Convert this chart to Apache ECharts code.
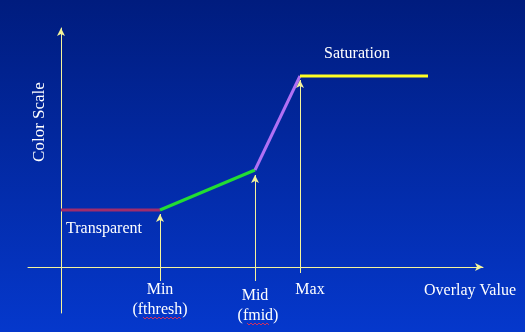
<!DOCTYPE html>
<html>
<head>
<meta charset="utf-8">
<script src="https://cdn.jsdelivr.net/npm/echarts@6/dist/echarts.min.js"></script>
<style>
  html, body { margin: 0; padding: 0; }
  #chart { width: 525px; height: 332px; }
</style>
</head>
<body>
<div id="chart"></div>
<script>
// Piecewise colour-scale transfer curve (overlay value -> colour scale)
const breakX = [0, 0.99, 1.94, 2.39, 3.67];     // start, fthresh, fmid, fmax, end
const scaleY = [0.57, 0.57, 0.97, 1.91, 1.91];  // colour scale at each break
const segmentNames = ['Transparent', 'Ramp', 'Steep ramp', 'Saturation'];
const segmentColors = ['#a02c6c', '#22dd33', '#b070f4', '#ffff22'];

// Threshold markers drawn as arrows up to the curve
const markerX = [0.99, 1.94, 2.39];
const markerFrom = [-0.14, -0.14, -0.06];
const markerTo = [0.53, 0.92, 1.87];

const FONT = '"Liberation Serif", "DejaVu Serif", serif';
const AXIS_COLOR = '#f4f49a';

const chart = echarts.init(document.getElementById('chart'), null, { renderer: 'canvas' });

const segments = segmentNames.map((name, i) => ({
  name: name,
  type: 'line',
  data: [[breakX[i], scaleY[i]], [breakX[i + 1], scaleY[i + 1]]],
  showSymbol: false,
  silent: true,
  lineStyle: { color: segmentColors[i], width: 3 },
  z: 3
}));

const markers = {
  type: 'line',
  data: [],
  silent: true,
  markLine: {
    silent: true,
    symbol: ['none', 'arrow'],
    symbolSize: [6, 8],
    label: { show: false },
    lineStyle: { color: AXIS_COLOR, width: 1, type: 'solid' },
    data: markerX.map((x, i) => [
      { coord: [x, markerFrom[i]] },
      { coord: [x, markerTo[i]] }
    ])
  },
  z: 2
};

const textStyle = (text, x, y, size, extra) => Object.assign({
  type: 'text',
  x: x, y: y,
  style: {
    text: text,
    fill: '#ffffff',
    font: size + 'px ' + FONT,
    textAlign: 'center',
    textVerticalAlign: 'middle'
  }
}, extra || {});

// Red wavy underline (spell-check marks) beneath a word
const wavy = (x0, x1, y) => {
  const pts = [];
  for (let x = x0, k = 0; x <= x1; x += 2, k++) pts.push([x, y + (k % 2 ? 1 : -1)]);
  return {
    type: 'polyline',
    shape: { points: pts },
    style: { stroke: '#d03060', lineWidth: 1, fill: null }
  };
};

chart.setOption({
  backgroundColor: {
    type: 'linear', x: 0, y: 0, x2: 0, y2: 1,
    colorStops: [
      { offset: 0, color: '#001c7e' },
      { offset: 1, color: '#0538cc' }
    ]
  },
  animation: false,
  grid: { left: 28, right: 42, top: 28, bottom: 19 },
  xAxis: {
    type: 'value',
    min: -0.33, max: 4.22,
    axisLine: {
      show: true, onZero: true,
      symbol: ['none', 'arrow'], symbolSize: [6, 8],
      lineStyle: { color: AXIS_COLOR, width: 1 }
    },
    axisTick: { show: false },
    axisLabel: { show: false },
    splitLine: { show: false }
  },
  yAxis: {
    type: 'value',
    min: -0.46, max: 2.39,
    axisLine: {
      show: true, onZero: true,
      symbol: ['none', 'arrow'], symbolSize: [6, 8],
      lineStyle: { color: AXIS_COLOR, width: 1 }
    },
    axisTick: { show: false },
    axisLabel: { show: false },
    splitLine: { show: false }
  },
  series: segments.concat([markers]),
  graphic: [
    textStyle('Color Scale', 40, 122, 17, { rotation: Math.PI / 2 }),
    textStyle('Transparent', 104, 229, 16),
    textStyle('Saturation', 357, 54, 16),
    textStyle('Min', 160, 290, 16),
    textStyle('(fthresh)', 160, 310, 16),
    textStyle('Mid', 255, 296, 16),
    textStyle('(fmid)', 258, 316, 16),
    textStyle('Max', 310, 290, 16),
    textStyle('Overlay Value', 470, 291, 16),
    wavy(143, 181, 318),
    wavy(247, 270, 324)
  ]
});
</script>
</body>
</html>
